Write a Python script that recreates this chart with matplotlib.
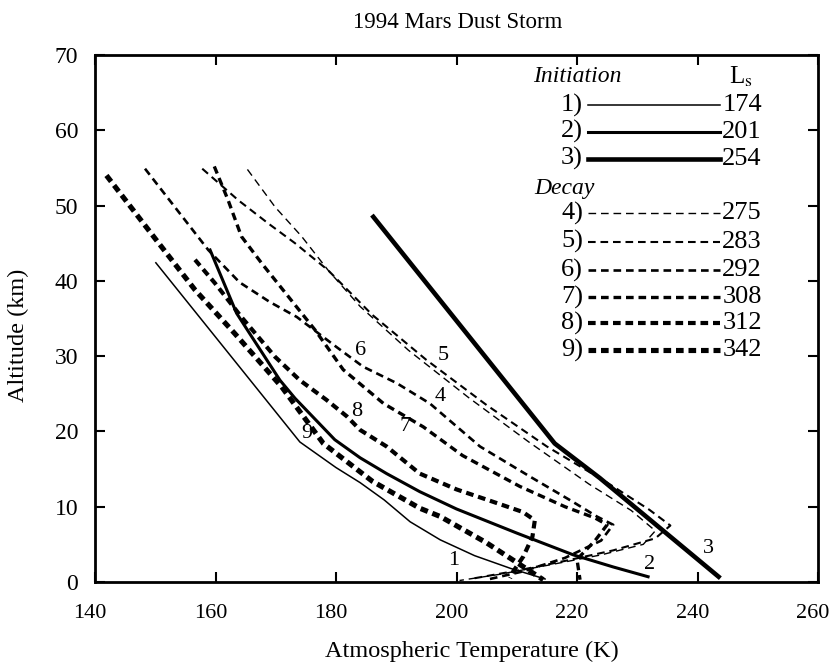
import matplotlib
matplotlib.use("Agg")
import matplotlib.pyplot as plt
import matplotlib.transforms as mtransforms

plt.rcParams['font.family'] = ['Liberation Serif', 'DejaVu Serif']
plt.rcParams['lines.scale_dashes'] = False
plt.rcParams['mathtext.fontset'] = 'stix'

# temperature (K) / altitude (km) profiles
t1 = [150.1, 174.0, 180, 184, 188, 192.3, 197.3, 203, 209, 214.7]
z1 = [42.4, 18.6, 15.2, 13.2, 10.9, 8.0, 5.6, 3.5, 1.8, 0.4]

t2 = [159.1, 163.5, 166.0, 170.7, 173.2, 179.8, 184, 188.4, 193.9, 200, 210, 219.4, 226, 231.8]
z2 = [44.1, 35.7, 32.6, 26.8, 24.4, 18.9, 16.5, 14.4, 12.0, 9.7, 6.5, 3.6, 2.0, 0.7]

t3 = [186.2, 216.3, 223.8, 243.5]
z3 = [48.5, 18.4, 13.8, 0.7]

t4 = [165.3, 169.9, 174.3, 178.7, 184, 192, 202, 212, 222, 229, 233, 231, 224, 215, 207, 200.5]
z4 = [54.8, 49.8, 45.9, 41.4, 36.6, 30.8, 24.5, 18.6, 13.0, 9.5, 6.8, 5.0, 3.6, 2.2, 1.0, 0.2]

t5 = [157.8, 163.8, 168.8, 173.2, 178.7, 186, 195, 205, 215, 225, 232, 235.5, 233, 226, 218, 210, 203]
z5 = [54.9, 50.7, 47.6, 45.0, 41.4, 35.5, 29.5, 23.5, 18.0, 13.2, 9.6, 7.5, 5.8, 4.2, 2.8, 1.5, 0.5]

t6 = [148.3, 158.8, 164, 169, 173.5, 180.1, 184.5, 190.1, 195.6, 203.9, 212.2, 219, 223.3, 226, 224, 218, 211, 205]
z6 = [54.9, 44.1, 39.8, 37.2, 35.2, 31.2, 28.6, 26.4, 23.7, 18.0, 14.0, 10.8, 8.7, 7.6, 5.5, 3.2, 1.4, 0.3]

t7 = [159.8, 162.1, 164.3, 167.7, 172.1, 176.5, 181.2, 187.9, 194.5, 201, 210.5, 218, 223, 225, 223, 220, 220.5]
z7 = [55.2, 50.7, 45.9, 42.3, 37.9, 33.5, 28.2, 23.7, 20.6, 16.8, 12.7, 10.0, 8.5, 7.6, 5.5, 3.0, 0.3]

t8 = [156.6, 159.9, 164.3, 169.9, 174.0, 178.4, 181.8, 184, 188.4, 193.9, 200, 207, 211, 213, 212.6, 211.1, 209.5, 208.9]
z8 = [42.8, 39.7, 35.2, 29.9, 26.8, 24.2, 22.0, 20.2, 18.0, 14.4, 12.3, 10.4, 9.3, 8.2, 6.0, 3.4, 1.5, 0.5]

t9 = [141.9, 150, 156.6, 163.2, 171, 177.9, 186, 193.9, 197.3, 205, 214.4]
z9 = [54.0, 45.6, 38.8, 33.0, 25.9, 18.4, 13.4, 9.8, 8.7, 5.2, 0.3]

labels = ['1', '2', '3', '4', '5', '6', '7', '8', '9']
ls_values = ['174', '201', '254', '275', '283', '292', '308', '312', '342']
label_t = [199.5, 232.1, 241.8, 197.3, 197.8, 184.0, 191.5, 183.4, 175.1]
label_z = [2.9, 2.3, 4.5, 24.6, 30.1, 30.7, 20.6, 22.6, 19.7]

profiles = [(t1, z1), (t2, z2), (t3, z3), (t4, z4), (t5, z5),
            (t6, z6), (t7, z7), (t8, z8), (t9, z9)]
widths = [1.1, 2.2, 3.3, 1.0, 1.5, 1.9, 2.4, 3.0, 3.7]
dashed = [False, False, False, True, True, True, True, True, True]

fig = plt.figure(figsize=(8.3, 6.72), dpi=100)
ax = fig.add_axes([95 / 830, 1 - 582 / 672, 723 / 830, 527 / 672])

for (t, z), lw, d in zip(profiles, widths, dashed):
    ln, = ax.plot(t, z, color='black', lw=lw, solid_joinstyle='round')
    if d:
        ln.set_dashes([5.5, 3.5])

for s, x, y in zip(labels, label_t, label_z):
    ax.text(x, y, s, fontsize=16, ha='center', va='center')

# legend drawn by hand
ax.text(212.7, 67.1, 'Initiation', fontsize=17, style='italic', va='center')
ax.text(245.2, 67.1, r'L$_\mathrm{s}$', fontsize=18, va='center')
ax.text(212.9, 52.3, 'Decay', fontsize=17, style='italic', va='center')
row_z = [63.3, 59.8, 56.2, 49.0, 45.2, 41.4, 37.8, 34.4, 30.8]
for i in range(9):
    zz = row_z[i]
    ln, = ax.plot([221.8, 243.7], [zz, zz], color='black', lw=widths[i])
    if dashed[i]:
        ln.set_dashes([5.5, 3.5])
    ax.text(221.0, zz, labels[i] + ')', fontsize=19, ha='right', va='center')
    ax.text(244.1, zz, ls_values[i], fontsize=19, ha='left', va='center')

ax.set_xlim(140, 260)
ax.set_ylim(0, 70)
ax.set_xticks([140, 160, 180, 200, 220, 240, 260])
ax.set_yticks([0, 10, 20, 30, 40, 50, 60, 70])
ax.tick_params(direction='in', length=7, width=1.5, top=True, right=True,
               labelsize=17)
ax.tick_params(axis='x', pad=16, labelsize=16)
ax.tick_params(axis='y', pad=12)
for sp in ax.spines.values():
    sp.set_linewidth(2.0)

# x tick labels sit a few pixels left of their ticks in the original
shift = mtransforms.ScaledTranslation(-5 / 100, 0, fig.dpi_scale_trans)
for lab in ax.get_xticklabels():
    lab.set_transform(lab.get_transform() + shift)

ax.set_xlabel('Atmospheric Temperature (K)', fontsize=17.5)
ax.xaxis.set_label_coords((472 - 95) / 723, (582 - 641) / 527)
ax.set_ylabel('Altitude (km)', fontsize=17.5)
ax.yaxis.set_label_coords((29 - 95) / 723, (582 - 335) / 527)
fig.text(458 / 830, 1 - 22 / 672, '1994 Mars Dust Storm',
         fontsize=16.5, ha='center', va='center')

fig.savefig('out.png', dpi=100)
